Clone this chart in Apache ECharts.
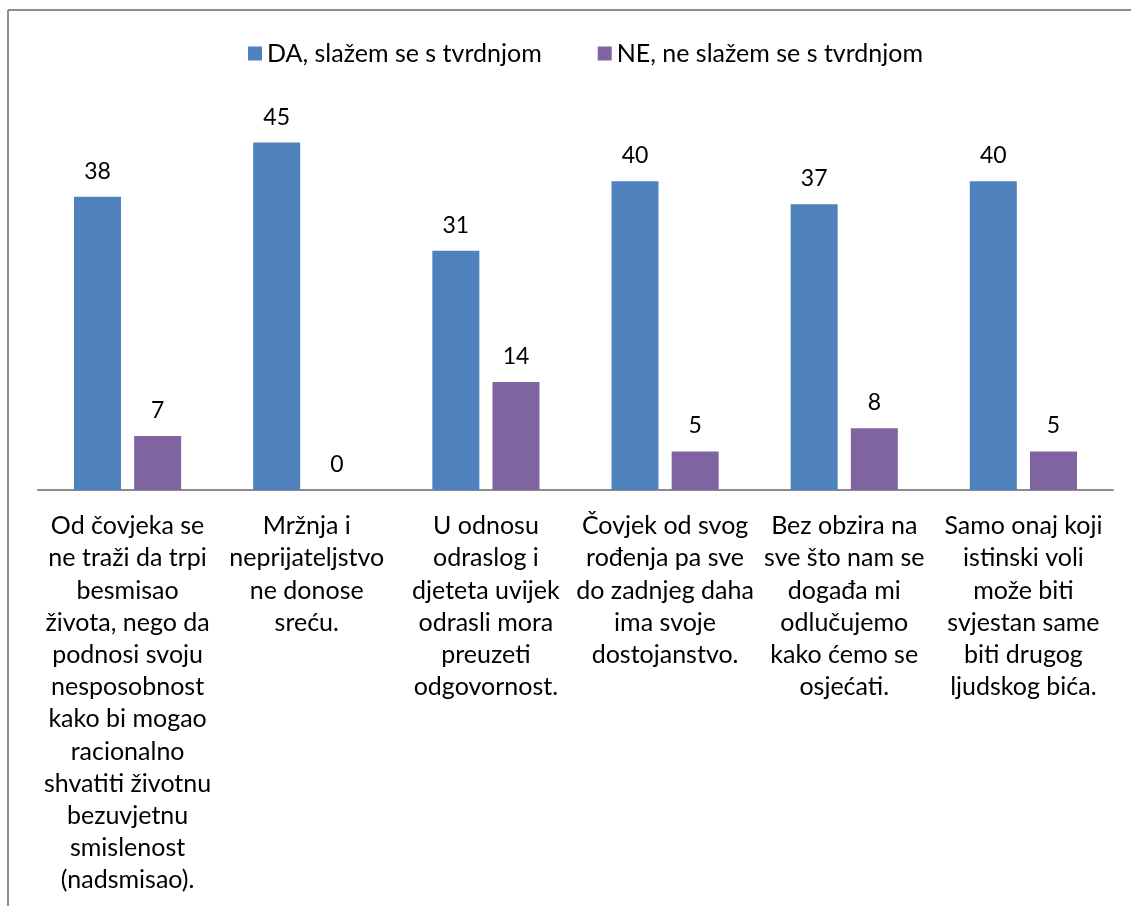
<!DOCTYPE html>
<html>
<head>
<meta charset="utf-8">
<script src="https://cdn.jsdelivr.net/npm/echarts@6/dist/echarts.min.js"></script>
<style>
  html, body { margin: 0; padding: 0; background: #fff; }
  #chart { width: 1131px; height: 906px; }
</style>
</head>
<body>
<div id="chart"></div>
<script>
const categories = [
  'Od čovjeka se\nne traži da trpi\nbesmisao\nživota, nego da\npodnosi svoju\nnesposobnost\nkako bi mogao\nracionalno\nshvatiti životnu\nbezuvjetnu\nsmislenost\n(nadsmisao).',
  'Mržnja i\nneprijateljstvo\nne donose\nsreću.',
  'U odnosu\nodraslog i\ndjeteta uvijek\nodrasli mora\npreuzeti\nodgovornost.',
  'Čovjek od svog\nrođenja pa sve\ndo zadnjeg daha\nima svoje\ndostojanstvo.',
  'Bez obzira na\nsve što nam se\ndogađa mi\nodlučujemo\nkako ćemo se\nosjećati.',
  'Samo onaj koji\nistinski voli\nmože biti\nsvjestan same\nbiti drugog\nljudskog bića.'
];
const daValues = [38, 45, 31, 40, 37, 40];
const neValues = [7, 0, 14, 5, 8, 5];

const FONT = 'Lato';
const chart = echarts.init(document.getElementById('chart'));

const option = {
  textStyle: { fontFamily: FONT },
  animation: false,
  legend: {
    top: 36,
    left: 243,
    itemWidth: 14,
    itemHeight: 14,
    itemGap: 56,
    icon: 'rect',
    textStyle: { fontSize: 25, color: '#000', fontFamily: FONT },
    data: ['DA, slažem se s tvrdnjom', 'NE, ne slažem se s tvrdnjom']
  },
  grid: { left: 38, right: 18, top: 104, bottom: 416 },
  xAxis: {
    type: 'category',
    data: categories,
    axisLine: { lineStyle: { color: '#8c8c8c', width: 2 } },
    axisTick: { show: false },
    axisLabel: {
      interval: 0,
      margin: 20,
      fontSize: 25,
      lineHeight: 32.2,
      color: '#000',
      align: 'center',
      fontFamily: FONT
    }
  },
  yAxis: {
    type: 'value',
    min: 0,
    max: 50,
    show: false
  },
  series: [
    {
      name: 'DA, slažem se s tvrdnjom',
      type: 'bar',
      data: daValues,
      barWidth: 47,
      barGap: '28%',
      itemStyle: { color: '#4f81bd' },
      label: { show: true, position: 'top', distance: 14, fontSize: 23, color: '#000', fontFamily: FONT }
    },
    {
      name: 'NE, ne slažem se s tvrdnjom',
      type: 'bar',
      data: neValues,
      barWidth: 47,
      itemStyle: { color: '#8064a2' },
      label: { show: true, position: 'top', distance: 14, fontSize: 23, color: '#000', fontFamily: FONT }
    }
  ],
  graphic: [
    { type: 'line', shape: { x1: 8, y1: 10, x2: 8, y2: 906 }, style: { stroke: '#8c8c8c', lineWidth: 2 } },
    { type: 'line', shape: { x1: 8, y1: 10, x2: 1131, y2: 10 }, style: { stroke: '#8c8c8c', lineWidth: 2 } }
  ]
};

chart.setOption(option);
</script>
</body>
</html>
